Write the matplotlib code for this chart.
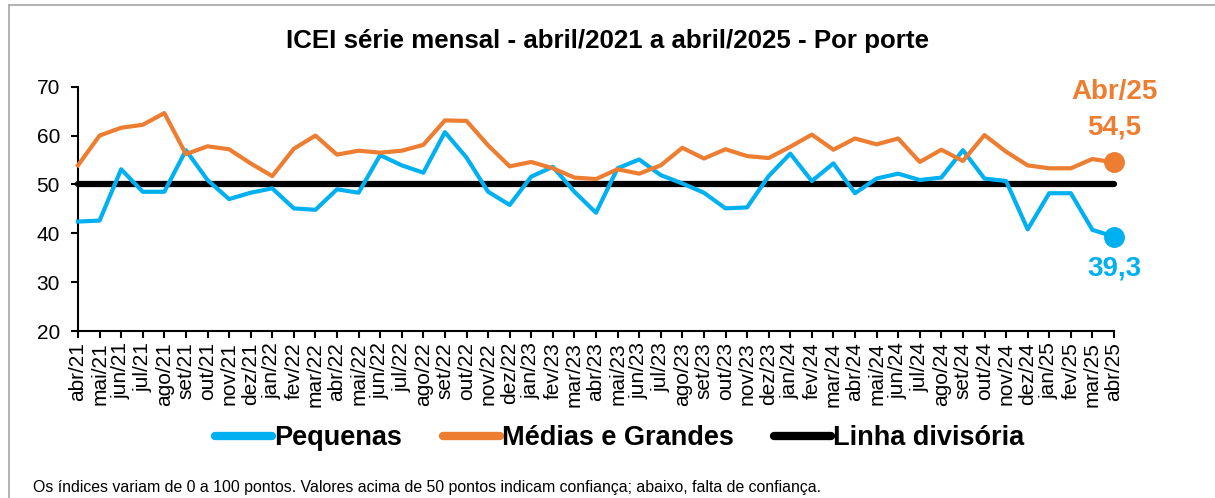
import matplotlib.pyplot as plt
from matplotlib.lines import Line2D

# Dados (ICEI mensal por porte, abr/21 a abr/25)
meses = ["abr/21", "mai/21", "jun/21", "jul/21", "ago/21", "set/21", "out/21", "nov/21", "dez/21",
         "jan/22", "fev/22", "mar/22", "abr/22", "mai/22", "jun/22", "jul/22", "ago/22", "set/22",
         "out/22", "nov/22", "dez/22", "jan/23", "fev/23", "mar/23", "abr/23", "mai/23", "jun/23",
         "jul/23", "ago/23", "set/23", "out/23", "nov/23", "dez/23", "jan/24", "fev/24", "mar/24",
         "abr/24", "mai/24", "jun/24", "jul/24", "ago/24", "set/24", "out/24", "nov/24", "dez/24",
         "jan/25", "fev/25", "mar/25", "abr/25"]

pequenas = [42.4, 42.6, 53.1, 48.5, 48.5, 57.0, 50.9, 47.0, 48.3,
            49.2, 45.1, 44.8, 49.0, 48.3, 56.0, 53.9, 52.4, 60.7,
            55.5, 48.5, 45.8, 51.6, 53.6, 48.5, 44.2, 53.3, 55.1,
            51.9, 50.2, 48.3, 45.1, 45.3, 51.7, 56.3, 50.7, 54.3,
            48.2, 51.2, 52.2, 50.9, 51.4, 57.0, 51.2, 50.7, 40.8,
            48.2, 48.2, 40.7, 39.3]

medias_grandes = [53.9, 60.0, 61.6, 62.2, 64.6, 56.2, 57.8, 57.2, 54.3,
                  51.7, 57.3, 60.0, 56.1, 56.9, 56.5, 56.9, 58.1, 63.1,
                  63.0, 58.0, 53.7, 54.6, 53.3, 51.4, 51.1, 53.1, 52.2,
                  53.9, 57.5, 55.3, 57.2, 55.8, 55.4, 57.7, 60.2, 57.1,
                  59.4, 58.2, 59.4, 54.6, 57.1, 54.8, 60.1, 56.7, 53.9,
                  53.3, 53.3, 55.2, 54.5]

linha_divisoria = [50] * len(meses)

AZUL = "#00b0f0"
LARANJA = "#ed7d31"

plt.rcParams["font.family"] = ["Liberation Sans", "DejaVu Sans"]

fig = plt.figure(figsize=(12.15, 4.98), dpi=100)
W, H = 1215, 498
ax = fig.add_axes([78 / W, 1 - 331 / H, (1114 - 78) / W, (331 - 86.7) / H])

x = list(range(len(meses)))
ax.plot(x, linha_divisoria, color="black", lw=4.5, solid_capstyle="round", zorder=2, clip_on=False)
ax.plot(x, pequenas, color=AZUL, lw=3, zorder=3, clip_on=False)
ax.plot(x, medias_grandes, color=LARANJA, lw=3, zorder=3, clip_on=False)
ax.plot(x[-1], pequenas[-1], "o", color=AZUL, ms=14, zorder=4, clip_on=False)
ax.plot(x[-1], medias_grandes[-1], "o", color=LARANJA, ms=14, zorder=4, clip_on=False)

ax.set_xlim(0, len(meses) - 1)
ax.set_ylim(20, 70)
ax.set_yticks(range(20, 71, 10))
ax.set_xticks(x)
ax.set_xticklabels(meses, rotation=90, fontsize=15)
ax.tick_params(axis="y", labelsize=15, length=5, width=1.5, pad=8)
ax.tick_params(axis="x", length=5, width=1.5, pad=3)
for s in ["top", "right"]:
    ax.spines[s].set_visible(False)
for s in ["left", "bottom"]:
    ax.spines[s].set_linewidth(1.5)

# rótulos finais
ax.annotate("Abr/25", xy=(x[-1], medias_grandes[-1]), xytext=(0, 51), textcoords="offset points",
            ha="center", va="center", fontsize=20, fontweight="bold", color=LARANJA, annotation_clip=False)
ax.annotate("54,5", xy=(x[-1], medias_grandes[-1]), xytext=(0, 25), textcoords="offset points",
            ha="center", va="center", fontsize=20, fontweight="bold", color=LARANJA, annotation_clip=False)
ax.annotate("39,3", xy=(x[-1], pequenas[-1]), xytext=(0, -23), textcoords="offset points",
            ha="center", va="center", fontsize=20, fontweight="bold", color=AZUL, annotation_clip=False)

fig.text(0.5, 1 - 41 / H, "ICEI série mensal - abril/2021 a abril/2025 - Por porte",
         ha="center", va="center", fontsize=18.6, fontweight="bold")

handles = [Line2D([], [], color=AZUL, lw=6, solid_capstyle="round"),
           Line2D([], [], color=LARANJA, lw=6, solid_capstyle="round"),
           Line2D([], [], color="black", lw=6, solid_capstyle="round")]
fig.legend(handles, ["Pequenas", "Médias e Grandes", "Linha divisória"],
           loc="center", bbox_to_anchor=(620 / W, 1 - 438 / H), ncol=3, frameon=False,
           handlelength=2.1, handletextpad=0.08, columnspacing=1.5,
           prop={"weight": "bold", "size": 19.5})

fig.text(33 / W, 1 - 487 / H,
         "Os índices variam de 0 a 100 pontos. Valores acima de 50 pontos indicam confiança; abaixo, falta de confiança.",
         ha="left", va="center", fontsize=11.4)

# moldura
fig.add_artist(Line2D([9 / W, 9 / W], [0, 1 - 5 / H], color="#a6a6a6", lw=1.2, transform=fig.transFigure))
fig.add_artist(Line2D([9 / W, 1], [1 - 5 / H, 1 - 5 / H], color="#a6a6a6", lw=1.2, transform=fig.transFigure))

fig.savefig("out.png", dpi=100)
